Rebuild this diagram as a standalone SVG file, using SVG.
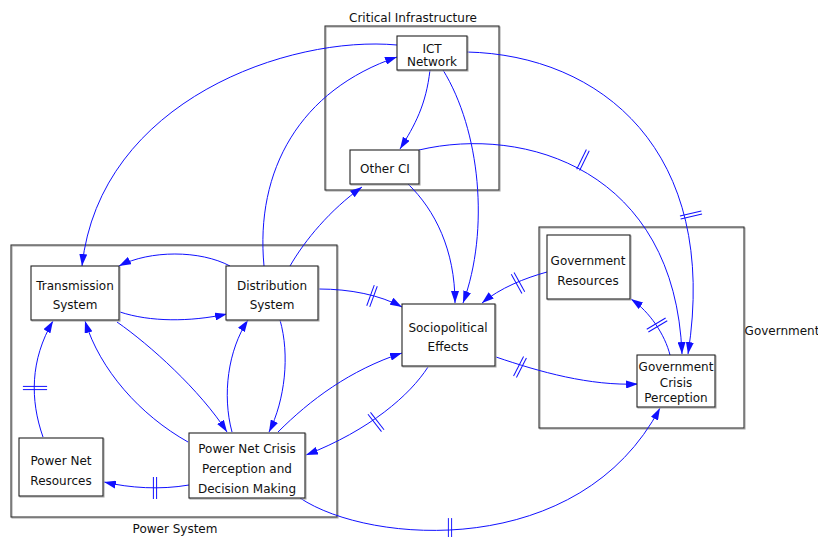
<svg xmlns="http://www.w3.org/2000/svg" width="818" height="537" viewBox="0 0 818 537">
<defs>
<style>
.cl{fill:none;stroke:#333;stroke-width:1.1}
.sh{fill:none;stroke:#aaa;stroke-width:1.1}
.bx{fill:#fff;stroke:#222;stroke-width:1.1}
.t{font-family:"DejaVu Sans",sans-serif;font-size:12px;fill:#111;text-anchor:middle}
.e{fill:none;stroke:#1010ff;stroke-width:1;marker-end:url(#ah)}
</style>
<marker id="ah" viewBox="0 0 12 8" refX="12" refY="4" markerWidth="12" markerHeight="8" markerUnits="userSpaceOnUse" orient="auto">
<path d="M0,0 L12,4 L0,8 Z" fill="#1010ff"/>
</marker>
<g id="dbar" stroke="#1010ff" stroke-width="1"><line x1="-11" y1="-1.6" x2="11" y2="-1.6"/><line x1="-11" y1="1.6" x2="11" y2="1.6"/></g>
</defs>
<rect width="818" height="537" fill="#fff"/>

<g id="cluster-ci">
<rect class="sh" x="326" y="27" width="174" height="164"/>
<rect class="cl" x="325" y="26" width="174" height="164"/>
<text class="t" x="413" y="22">Critical Infrastructure</text>
</g>
<g id="cluster-ps">
<rect class="sh" x="12" y="246" width="326" height="272"/>
<rect class="cl" x="11" y="245" width="326" height="272"/>
<text class="t" x="175" y="533">Power System</text>
</g>
<g id="cluster-gov">
<rect class="sh" x="540" y="228" width="205" height="201"/>
<rect class="cl" x="539" y="227" width="205" height="201"/>
<text class="t" x="782" y="335">Government</text>
</g>

<g id="connectors">
<path class="e" d="M397,45 C290,35 100,100 82,266"/>
<path class="e" d="M264,266 C255,170 300,90 397,57"/>
<path class="e" d="M430,70 C426,105 415,125 400,149"/>
<path class="e" d="M443,70 C480,130 490,230 463,303"/>
<path class="e" d="M408,184 C435,210 455,250 455,303"/>
<path class="e" d="M467,52 C600,55 720,150 688,354"/>
<path class="e" d="M419,150 C525,125 675,170 682,354"/>
<path class="e" d="M290,266 C305,240 330,210 362,187"/>
<path class="e" d="M230,266 C200,250 150,250 119,266"/>
<path class="e" d="M120,312 C150,322 190,322 227,314"/>
<path class="e" d="M117,322 C150,345 200,390 227,432"/>
<path class="e" d="M188,442 C140,415 100,370 85,321"/>
<path class="e" d="M232,432 C222,395 228,350 248,320"/>
<path class="e" d="M280,320 C290,355 285,400 269,432"/>
<path class="e" d="M43,437 C30,400 30,360 53,321"/>
<path class="e" d="M189,485 C160,490 130,488 104,482"/>
<path class="e" d="M278,432 C310,400 350,370 402,353"/>
<path class="e" d="M428,367 C410,395 370,430 306,455"/>
<path class="e" d="M319,289 C350,289 380,295 402,307"/>
<path class="e" d="M547,272 C525,278 500,288 482,303"/>
<path class="e" d="M496,357 C540,372 590,386 638,384"/>
<path class="e" d="M670,355 C665,335 650,312 631,299"/>
<path class="e" d="M300,498 C370,545 580,560 660,408"/>
<use href="#dbar" transform="translate(691,215) rotate(-13)"/>
<use href="#dbar" transform="translate(583,160) rotate(-64)"/>
<use href="#dbar" transform="translate(35,388) scale(1.1,1)"/>
<use href="#dbar" transform="translate(155,488) rotate(90)"/>
<use href="#dbar" transform="translate(376,422) rotate(52)"/>
<use href="#dbar" transform="translate(372,296) rotate(-70)"/>
<use href="#dbar" transform="translate(518,283) rotate(61)"/>
<use href="#dbar" transform="translate(520,367) rotate(-63)"/>
<use href="#dbar" transform="translate(657,325) rotate(-31)"/>
<use href="#dbar" transform="translate(450,528) rotate(90) scale(0.9,1)"/>
</g>

<g id="ict">
<rect class="sh" x="398" y="37" width="70" height="34"/>
<rect class="bx" x="397" y="36" width="70" height="34"/>
<text class="t" x="432" y="53">ICT</text>
<text class="t" x="432" y="66">Network</text>
</g>
<g id="otherci">
<rect class="sh" x="351" y="151" width="69" height="34"/>
<rect class="bx" x="350" y="150" width="69" height="34"/>
<text class="t" x="385" y="173">Other CI</text>
</g>
<g id="transmission">
<rect class="sh" x="32" y="267" width="88" height="54"/>
<rect class="bx" x="31" y="266" width="88" height="54"/>
<text class="t" x="75" y="290">Transmission</text>
<text class="t" x="75" y="309">System</text>
</g>
<g id="distribution">
<rect class="sh" x="227" y="267" width="92" height="54"/>
<rect class="bx" x="226" y="266" width="92" height="54"/>
<text class="t" x="272" y="290">Distribution</text>
<text class="t" x="272" y="309">System</text>
</g>
<g id="pnres">
<rect class="sh" x="20" y="439" width="84" height="58"/>
<rect class="bx" x="19" y="438" width="84" height="58"/>
<text class="t" x="61" y="465">Power Net</text>
<text class="t" x="61" y="485">Resources</text>
</g>
<g id="pncrisis">
<rect class="sh" x="190" y="434" width="116" height="65"/>
<rect class="bx" x="189" y="433" width="116" height="65"/>
<text class="t" x="247" y="453">Power Net Crisis</text>
<text class="t" x="247" y="473">Perception and</text>
<text class="t" x="247" y="493">Decision Making</text>
</g>
<g id="socio">
<rect class="sh" x="403" y="305" width="93" height="62"/>
<rect class="bx" x="402" y="304" width="93" height="62"/>
<text class="t" x="448" y="332">Sociopolitical</text>
<text class="t" x="448" y="351">Effects</text>
</g>
<g id="govres">
<rect class="sh" x="548" y="236" width="83" height="64"/>
<rect class="bx" x="547" y="235" width="83" height="64"/>
<text class="t" x="588" y="265">Government</text>
<text class="t" x="588" y="285">Resources</text>
</g>
<g id="govcrisis">
<rect class="sh" x="638" y="356" width="78" height="52"/>
<rect class="bx" x="637" y="355" width="78" height="52"/>
<text class="t" x="676" y="371">Government</text>
<text class="t" x="676" y="387">Crisis</text>
<text class="t" x="676" y="402">Perception</text>
</g>
</svg>
